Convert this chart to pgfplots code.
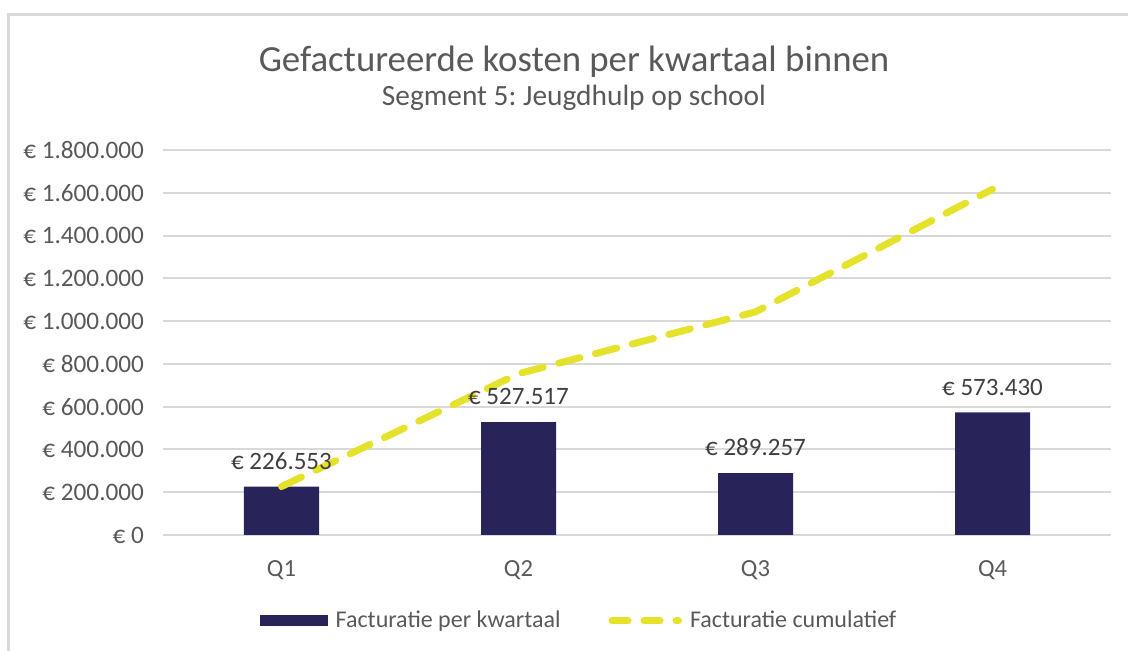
\documentclass[border=0pt]{standalone}
\usepackage{pgfplots}
\pgfplotsset{compat=1.18}
\usepackage{fontspec}
\setmainfont{Carlito}
\frenchspacing
\definecolor{barnavy}{HTML}{282359}
\definecolor{cumyellow}{HTML}{E5E22C}
\definecolor{txtgray}{HTML}{595959}
\definecolor{lblgray}{HTML}{404040}
\definecolor{gridgray}{HTML}{D9D9D9}
\begin{document}
\begin{tikzpicture}
% page size: 564pt x 325.5pt (2px per pt)
\path[use as bounding box] (-81.5pt,-58pt) rectangle (482.5pt,267.5pt);
\draw[gridgray, line width=1.5pt] (-77pt,-60pt) -- (-77pt,260pt) -- (484pt,260pt);
\node[anchor=base, font=\fontsize{18.4}{20}\selectfont, text=txtgray] at (205.5pt,231.5pt) {Gefactureerde kosten per kwartaal binnen};
\node[anchor=base, font=\fontsize{14.7}{16}\selectfont, text=txtgray] at (205.5pt,214.5pt) {Segment 5: Jeugdhulp op school};
\begin{axis}[
  at={(0,0)}, anchor=south west,
  scale only axis,
  width=474pt, height=192.5pt,
  xmin=-0.5, xmax=3.5,
  ymin=0, ymax=1800000,
  xtick={0,1,2,3},
  xticklabels={Q1,Q2,Q3,Q4},
  ytick={0,200000,400000,600000,800000,1000000,1200000,1400000,1600000,1800000},
  yticklabels={€ 0,€ 200.000,€ 400.000,€ 600.000,€ 800.000,€ 1.000.000,€ 1.200.000,€ 1.400.000,€ 1.600.000,€ 1.800.000},
  scaled y ticks=false,
  major tick length=0pt,
  axis line style={draw=none},
  ymajorgrids,
  grid style={gridgray, line width=1pt},
  ticklabel style={font=\fontsize{12.6}{14}\selectfont, text=txtgray},
  yticklabel style={xshift=-6pt},
  xticklabel style={yshift=-9pt, font=\fontsize{12.3}{14}\selectfont},
  legend columns=2,
  legend style={at={(0.5,0)}, anchor=center, yshift=-43pt, xshift=-28.5pt,
    draw=none, fill=none, font=\fontsize{12}{14}\selectfont, text=txtgray,
    /tikz/every odd column/.append style={column sep=2pt},
    /tikz/every even column/.append style={column sep=22pt}},
]
\addplot[ybar, bar width=37.5pt, fill=barnavy, draw=none,
  nodes near coords, point meta=explicit symbolic,
  every node near coord/.append style={font=\fontsize{12.5}{14}\selectfont, text=lblgray, yshift=5pt},
  legend image code/.code={\fill[barnavy] (0pt,-2.75pt) rectangle (34pt,2.75pt);}]
  coordinates {(0,226553) [€ 226.553] (1,527517) [€ 527.517] (2,289257) [€ 289.257] (3,573430) [€ 573.430]};
\addlegendentry{Facturatie per kwartaal}
\addplot[cumyellow, line width=3.5pt, line cap=round, dash pattern=on 11pt off 8pt, mark=none,
  legend image code/.code={\draw[cumyellow, line width=3.5pt, line cap=round, dash pattern=on 8pt off 8pt] (1.75pt,0pt) -- (35pt,0pt);}]
  coordinates {(0,226553) (1,754070) (2,1043327) (3,1616757)};
\addlegendentry{Facturatie cumulatief}
\end{axis}
\end{tikzpicture}
\end{document}
